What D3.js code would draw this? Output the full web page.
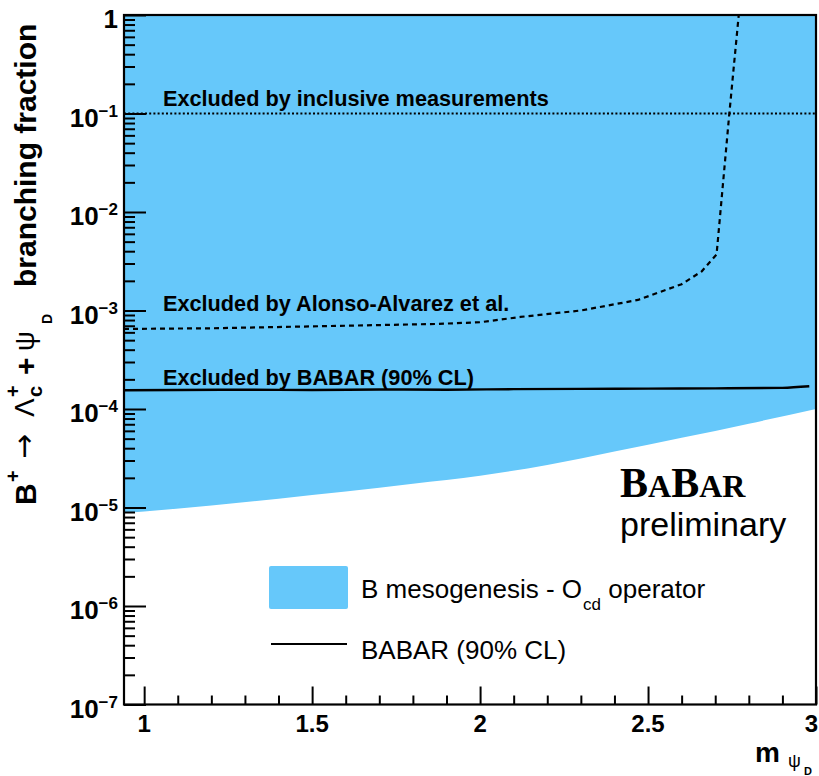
<!DOCTYPE html>
<html><head><meta charset="utf-8">
<script src="https://cdn.jsdelivr.net/npm/d3@7"></script>
<style>body{margin:0;background:#fff} svg{display:block}</style>
</head><body>
<svg id="chart" width="819" height="776"></svg>
<script>
// ---- data ----
const mesoMass  = [0.94, 1.0, 1.2, 1.4, 1.6, 1.8, 2.0, 2.2, 2.4, 2.6, 2.8, 3.0];
const mesoLower = [8.8e-6, 9.1e-6, 1.05e-5, 1.23e-5, 1.45e-5, 1.74e-5, 2.1e-5, 2.7e-5, 3.7e-5, 5.1e-5, 7.1e-5, 1.0e-4];
const mesoUpper = 1.0;

const babarMass  = [0.94, 1.1, 1.3, 1.5, 1.7, 1.9, 2.1, 2.3, 2.5, 2.7, 2.9, 2.98];
const babarLimit = [1.55e-4, 1.56e-4, 1.57e-4, 1.56e-4, 1.58e-4, 1.57e-4, 1.59e-4, 1.60e-4, 1.61e-4, 1.62e-4, 1.64e-4, 1.70e-4];

const alonsoMass  = [0.94, 1.2, 1.5, 1.87, 2.0, 2.12, 2.3, 2.47, 2.6, 2.66, 2.704, 2.742, 2.77];
const alonsoLimit = [6.5e-4, 6.6e-4, 6.9e-4, 7.3e-4, 7.6e-4, 8.6e-4, 1.0e-3, 1.28e-3, 1.85e-3, 2.5e-3, 3.7e-3, 0.1, 1.0];

const inclusiveLimit = 0.1;

const xMajorTicks = [1, 1.5, 2, 2.5, 3];
const xTickLabels = ["1", "1.5", "2", "2.5", "3"];
const yDecadeExponents = [0, -1, -2, -3, -4, -5, -6, -7];

const annotations = ["Excluded by inclusive measurements", "Excluded by Alonso-Alvarez et al.", "Excluded by BABAR (90% CL)"];
const legendLabels = ["B mesogenesis - O", "cd", " operator", "BABAR (90% CL)"];

// ---- layout ----
const plot = {left: 124, right: 816, top: 15, bottom: 704.5};
const BLUE = "#66c8fa";
const SANS = "'Liberation Sans', Arial, Helvetica, sans-serif";

const svg = d3.select("#chart");
const x = d3.scaleLinear().domain([0.94, 3.0]).range([plot.left, plot.right]);
const y = d3.scaleLog().domain([1e-7, 1]).range([plot.bottom, plot.top]);

svg.append("defs").append("clipPath").attr("id", "clip")
  .append("rect").attr("x", plot.left).attr("y", plot.top)
  .attr("width", plot.right - plot.left).attr("height", plot.bottom - plot.top);

const g = svg.append("g").attr("clip-path", "url(#clip)");

// blue allowed region
const mesoData = mesoMass.map((m, i) => ({m, v: mesoLower[i]}));
g.append("path").datum(mesoData)
  .attr("fill", BLUE)
  .attr("d", d3.area().x(d => x(d.m)).y0(y(mesoUpper)).y1(d => y(d.v)).curve(d3.curveMonotoneX));

// inclusive dotted line
g.append("line")
  .attr("x1", plot.left).attr("x2", plot.right)
  .attr("y1", y(inclusiveLimit)).attr("y2", y(inclusiveLimit))
  .attr("stroke", "#000").attr("stroke-width", 2).attr("stroke-dasharray", "2,2.2");

// Alonso-Alvarez dashed
const line = d3.line().x(d => x(d.m)).y(d => y(d.v));
g.append("path").datum(alonsoMass.map((m, i) => ({m, v: alonsoLimit[i]})))
  .attr("fill", "none").attr("stroke", "#000").attr("stroke-width", 2.2)
  .attr("stroke-dasharray", "5,4").attr("d", line);

// BABAR solid
g.append("path").datum(babarMass.map((m, i) => ({m, v: babarLimit[i]})))
  .attr("fill", "none").attr("stroke", "#000").attr("stroke-width", 2.4)
  .attr("d", line.curve(d3.curveMonotoneX));

// ---- axes ----
const yMinor = [];
yDecadeExponents.forEach(e => { if (e > -7) for (let k = 2; k <= 9; k++) yMinor.push(k * Math.pow(10, e - 1)); });
const yMajor = yDecadeExponents.map(e => Math.pow(10, e));

const axY = svg.append("g").attr("transform", `translate(${plot.left},0)`);
axY.call(d3.axisLeft(y).tickValues(yMajor).tickSize(-22).tickFormat(""));
const axY2 = svg.append("g").attr("transform", `translate(${plot.left},0)`);
axY2.call(d3.axisLeft(y).tickValues(yMinor).tickSize(-11).tickFormat(""));

const xMinor = d3.range(10, 30).map(d => d / 10).filter(v => !xMajorTicks.includes(v));
const axX = svg.append("g").attr("transform", `translate(0,${plot.bottom})`);
axX.call(d3.axisBottom(x).tickValues(xMajorTicks).tickSize(-18).tickFormat(""));
const axX2 = svg.append("g").attr("transform", `translate(0,${plot.bottom})`);
axX2.call(d3.axisBottom(x).tickValues(xMinor).tickSize(-9).tickFormat(""));

[axY, axY2, axX, axX2].forEach(a => {
  a.select(".domain").remove();
  a.selectAll(".tick line").attr("stroke", "#000").attr("stroke-width", 2);
});

// frame
svg.append("rect").attr("x", plot.left).attr("y", plot.top)
  .attr("width", plot.right - plot.left).attr("height", plot.bottom - plot.top)
  .attr("fill", "none").attr("stroke", "#000").attr("stroke-width", 2.2);

// y tick labels
yDecadeExponents.forEach(e => {
  const t = svg.append("text").attr("x", 118).attr("y", y(Math.pow(10, e)) + 13)
    .attr("text-anchor", "end").attr("font-family", SANS).attr("font-weight", "bold")
    .attr("font-size", 26).attr("fill", "#000");
  if (e === 0) { t.text("1"); }
  else {
    t.append("tspan").text("10");
    t.append("tspan").attr("font-size", 17).attr("dy", -10).text("\u2212" + Math.abs(e));
  }
});

// x tick labels (last one kept inside the canvas)
xMajorTicks.forEach((v, i) => {
  const last = i === xMajorTicks.length - 1;
  svg.append("text").attr("x", last ? 818 : x(v)).attr("y", 732)
    .attr("text-anchor", last ? "end" : "middle")
    .attr("font-family", SANS).attr("font-weight", "bold").attr("font-size", 24)
    .text(xTickLabels[i]);
});

// x title: m_{psi_D}
svg.append("text").attr("x", 755).attr("y", 762).attr("font-family", SANS)
  .attr("font-weight", "bold").attr("font-size", 28).text("m");
svg.append("text").attr("x", 788).attr("y", 767).attr("font-family", SANS)
  .attr("font-size", 18).text("\u03C8");
svg.append("text").attr("x", 804).attr("y", 775).attr("font-family", SANS)
  .attr("font-weight", "bold").attr("font-size", 11).text("D");

// y title (rotated), pieces placed along the axis
const yt = svg.append("g").attr("transform", "rotate(-90)").attr("font-family", SANS).attr("fill", "#000");
function ypiece(txt, imgY, imgX, size, bold, fam) {
  yt.append("text").attr("x", -imgY).attr("y", imgX).attr("font-size", size)
    .attr("font-family", fam || SANS)
    .attr("font-weight", bold ? "bold" : "normal").text(txt);
}
ypiece("B", 505, 36, 30, true);
ypiece("+", 482, 20, 20, true);
ypiece("\u2192", 459, 34, 30, false, "'DejaVu Sans', sans-serif");
ypiece("\u039B", 417, 34, 28, false);
ypiece("c", 397, 42, 20, true);
ypiece("+", 397, 20, 20, true);
ypiece("+", 375, 36, 30, true);
ypiece("\u03C8", 351, 34, 28, false);
ypiece("D", 324, 52, 14, true);
ypiece("branching fraction", 287, 36, 30, true);

// annotations
const annY = [106, 311, 385];
annotations.forEach((a, i) => {
  svg.append("text").attr("x", 163).attr("y", annY[i]).attr("font-family", SANS)
    .attr("font-weight", "bold").attr("font-size", 21.7).text(a);
});

// legend
svg.append("rect").attr("x", 269).attr("y", 566).attr("width", 79).attr("height", 43)
  .attr("rx", 2).attr("fill", BLUE);
svg.append("line").attr("x1", 271).attr("x2", 347).attr("y1", 644).attr("y2", 644)
  .attr("stroke", "#000").attr("stroke-width", 2);
const l1 = svg.append("text").attr("x", 361).attr("y", 598).attr("font-family", SANS).attr("font-size", 26);
l1.append("tspan").text(legendLabels[0]);
l1.append("tspan").attr("font-size", 17).attr("dy", 12).attr("dx", 1).text(legendLabels[1]);
l1.append("tspan").attr("dy", -12).text(legendLabels[2]);
svg.append("text").attr("x", 361).attr("y", 659).attr("font-family", SANS).attr("font-size", 26).text(legendLabels[3]);

// BABAR logo
const SERIF = "'Liberation Serif', 'Times New Roman', serif";
const logo = svg.append("text").attr("x", 620).attr("y", 497).attr("font-family", SERIF).attr("font-weight", "bold");
[["B", 42], ["A", 32], ["B", 42], ["A", 32], ["R", 32]].forEach(([c, s]) => logo.append("tspan").attr("font-size", s).text(c));
svg.append("text").attr("x", 620).attr("y", 536).attr("font-family", SANS).attr("font-size", 34).text("preliminary");
</script>
</body></html>
